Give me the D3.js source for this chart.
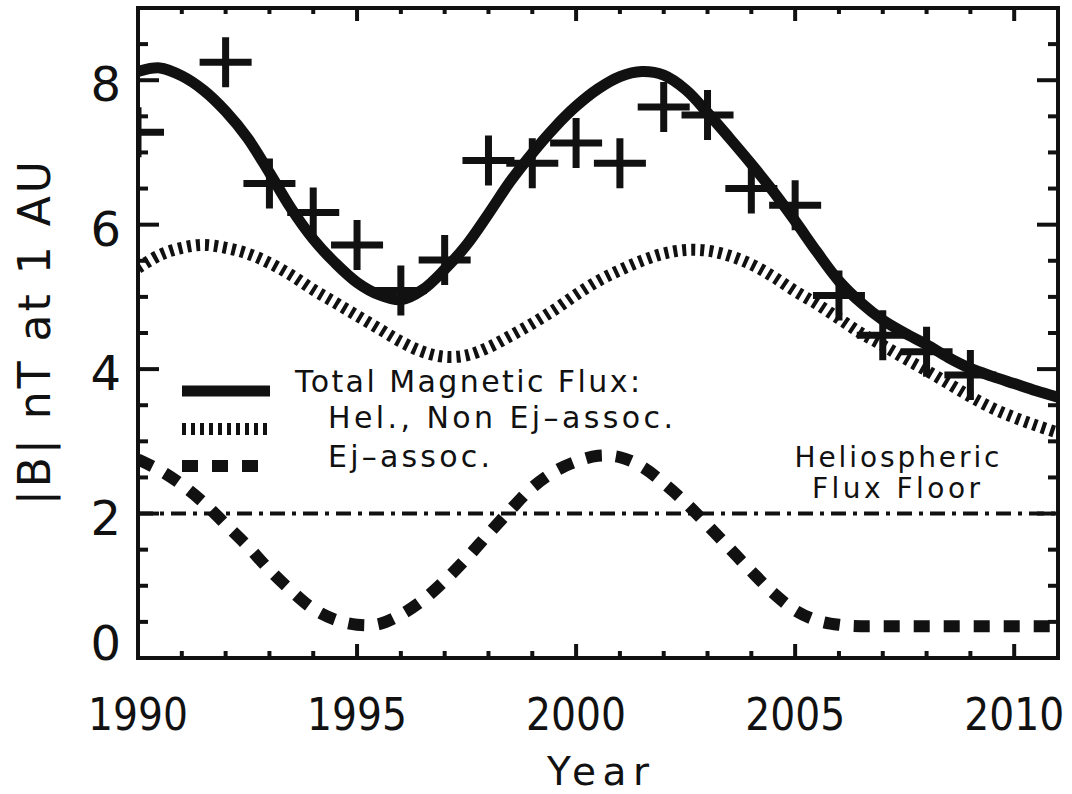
<!DOCTYPE html>
<html>
<head>
<meta charset="utf-8">
<script src="https://cdn.jsdelivr.net/npm/d3@7"></script>
<style>
  html, body { margin: 0; padding: 0; background: #fff; }
  svg { display: block; }
  text { font-family: "DejaVu Sans", sans-serif; fill: #111; }
</style>
</head>
<body>
<svg id="chart" width="1072" height="794"></svg>
<script>
// Model grid (years) and modelled field strengths
const modelYears = [1990, 1990.5, 1991, 1991.5, 1992, 1992.5, 1993, 1993.5, 1994, 1994.5,
  1995, 1995.5, 1996, 1996.5, 1997, 1997.5, 1998, 1998.5, 1999, 1999.5,
  2000, 2000.5, 2001, 2001.5, 2002, 2002.5, 2003, 2003.5, 2004, 2004.5,
  2005, 2005.5, 2006, 2006.5, 2007, 2007.5, 2008, 2008.5, 2009, 2009.5,
  2010, 2010.5, 2011];
const totalFlux = [8.12, 8.17, 8.06, 7.86, 7.57, 7.20, 6.72, 6.22, 5.80, 5.47,
  5.20, 5.03, 4.96, 5.10, 5.38, 5.72, 6.15, 6.60, 6.99, 7.34,
  7.64, 7.88, 8.05, 8.12, 8.07, 7.87, 7.55, 7.20, 6.84, 6.46,
  6.05, 5.62, 5.22, 4.92, 4.68, 4.50, 4.34, 4.16, 4.01, 3.90,
  3.80, 3.70, 3.61];
const helNonEjFlux = [5.40, 5.58, 5.68, 5.72, 5.68, 5.60, 5.47, 5.30, 5.10, 4.92,
  4.74, 4.56, 4.38, 4.24, 4.17, 4.19, 4.30, 4.46, 4.63, 4.82,
  5.03, 5.22, 5.37, 5.50, 5.60, 5.65, 5.64, 5.57, 5.45, 5.28,
  5.08, 4.90, 4.70, 4.50, 4.33, 4.15, 3.98, 3.80, 3.62, 3.46,
  3.33, 3.22, 3.12];
const ejFlux = [2.75, 2.60, 2.40, 2.15, 1.85, 1.55, 1.22, 0.93, 0.68, 0.53,
  0.46, 0.47, 0.60, 0.80, 1.07, 1.38, 1.72, 2.05, 2.36, 2.58,
  2.72, 2.80, 2.78, 2.65, 2.42, 2.15, 1.84, 1.52, 1.20, 0.90,
  0.66, 0.52, 0.46, 0.44, 0.44, 0.44, 0.44, 0.44, 0.44, 0.44,
  0.44, 0.44, 0.44];

// Yearly observed |B| at 1 AU
const obsYears = [1990, 1992, 1993, 1994, 1995, 1996, 1997, 1998, 1999, 2000,
  2001, 2002, 2003, 2004, 2005, 2006, 2007, 2008, 2009];
const obsB = [7.28, 8.25, 6.57, 6.17, 5.72, 5.09, 5.51, 6.89, 6.85, 7.13,
  6.85, 7.63, 7.52, 6.50, 6.27, 5.02, 4.47, 4.24, 3.92];

const floorLevel = 2;

// Axis ticks
const xMajorTicks = [1990, 1995, 2000, 2005, 2010];
const xMinorTicks = [1991, 1992, 1993, 1994, 1996, 1997, 1998, 1999, 2001, 2002,
  2003, 2004, 2006, 2007, 2008, 2009];
const yMajorTicks = [0, 2, 4, 6, 8];
const yMinorTicks = [0.5, 1, 1.5, 2.5, 3, 3.5, 4.5, 5, 5.5, 6.5, 7, 7.5, 8.5];

const legendLabels = ["Total Magnetic Flux:", "Hel., Non Ej\u2013assoc.", "Ej\u2013assoc."];
const floorLabel = ["Heliospheric", "Flux Floor"];

const INK = "#111";
const svg = d3.select("#chart");

const x = d3.scaleLinear().domain([1990, 2011]).range([138, 1058]);
const y = d3.scaleLinear().domain([0, 9]).range([658, 8]);
const [x0, x1] = x.range();
const [y0, y1] = y.range();

svg.append("defs").append("clipPath").attr("id", "plotClip")
  .append("rect").attr("x", x0).attr("y", y1).attr("width", x1 - x0).attr("height", y0 - y1);

const plot = svg.append("g").attr("clip-path", "url(#plotClip)");

const line = d3.line()
  .x((d, i) => x(modelYears[i]))
  .y(d => y(d))
  .curve(d3.curveCatmullRom.alpha(0.5));

// Heliospheric flux floor (dash-dot)
plot.append("line")
  .attr("x1", x0).attr("x2", x1)
  .attr("y1", y(floorLevel)).attr("y2", y(floorLevel))
  .attr("stroke", INK).attr("stroke-width", 4)
  .attr("stroke-dasharray", "15 7 4 7");

const styles = {
  total: { width: 11, dash: null },
  hel: { width: 12, dash: "4 5" },
  ej: { width: 12, dash: "16 14" }
};

function styleLine(sel, s) {
  sel.attr("fill", "none").attr("stroke", INK).attr("stroke-width", s.width)
    .attr("stroke-linecap", "butt").attr("stroke-linejoin", "round");
  if (s.dash) sel.attr("stroke-dasharray", s.dash);
  return sel;
}

styleLine(plot.append("path").attr("d", line(ejFlux)), styles.ej);
styleLine(plot.append("path").attr("d", line(helNonEjFlux)), styles.hel);
styleLine(plot.append("path").attr("d", line(totalFlux)), styles.total);

// Observations as plus signs
plot.selectAll("path.obs")
  .data(obsB)
  .join("path")
  .attr("class", "obs")
  .attr("transform", (d, i) => `translate(${x(obsYears[i])},${y(d)})`)
  .attr("d", "M-26,0H26M0,-25V25")
  .attr("stroke", INK).attr("stroke-width", 7).attr("fill", "none");

// Frame and inward ticks on all four sides
const axes = svg.append("g").attr("stroke", INK).attr("stroke-width", 4).attr("fill", "none");

function tickSet(values, scale, orient, len) {
  axes.selectAll(null).data(values).join("line")
    .attr("x1", d => orient === "left" ? x0 : orient === "right" ? x1 : scale(d))
    .attr("x2", d => orient === "left" ? x0 + len : orient === "right" ? x1 - len : scale(d))
    .attr("y1", d => orient === "bottom" ? y0 : orient === "top" ? y1 : scale(d))
    .attr("y2", d => orient === "bottom" ? y0 - len : orient === "top" ? y1 + len : scale(d));
}
tickSet(yMajorTicks, y, "left", 21);
tickSet(yMinorTicks, y, "left", 10);
tickSet(yMajorTicks, y, "right", 21);
tickSet(yMinorTicks, y, "right", 10);
tickSet(xMajorTicks, x, "bottom", 14);
tickSet(xMinorTicks, x, "bottom", 7);
tickSet(xMajorTicks, x, "top", 13);
tickSet(xMinorTicks, x, "top", 6);

axes.append("rect")
  .attr("x", x0).attr("y", y1).attr("width", x1 - x0).attr("height", y0 - y1)
  .attr("stroke-linejoin", "miter");

// Tick labels
svg.append("g").selectAll("text").data(yMajorTicks).join("text")
  .attr("x", 121)
  .attr("y", d => Math.min(y(d) + 4, y(0) - 15))
  .attr("dominant-baseline", "central")
  .attr("text-anchor", "end")
  .attr("font-size", 48)
  .text(d => d3.format("d")(d));

svg.append("g").selectAll("text").data(xMajorTicks).join("text")
  .attr("x", d => x(d))
  .attr("y", 730)
  .attr("text-anchor", "middle")
  .attr("font-size", 44)
  .attr("textLength", 100).attr("lengthAdjust", "spacingAndGlyphs")
  .text(d => d3.format("d")(d));

// Axis titles
svg.append("text")
  .attr("x", (x0 + x1) / 2).attr("y", 785)
  .attr("text-anchor", "middle").attr("font-size", 39)
  .attr("textLength", 102).attr("lengthAdjust", "spacing")
  .text("Year");

svg.append("text")
  .attr("transform", `translate(50,${(y0 + y1) / 2}) rotate(-90)`)
  .attr("text-anchor", "middle").attr("font-size", 44)
  .attr("textLength", 344).attr("lengthAdjust", "spacing")
  .text("|B| nT at 1 AU");

// Legend
const legend = svg.append("g");
const legendRows = [
  { s: styles.total, ly: 391, x2: 270, label: legendLabels[0], tx: 295, ty: 392, len: 345 },
  { s: styles.hel, ly: 429, x2: 270, label: legendLabels[1], tx: 328, ty: 428, len: 345 },
  { s: styles.ej, ly: 466, x2: 260, label: legendLabels[2], tx: 328, ty: 467, len: 162 }
];
legendRows.forEach(r => {
  styleLine(legend.append("line")
    .attr("x1", 182).attr("x2", r.x2).attr("y1", r.ly).attr("y2", r.ly), r.s);
  legend.append("text")
    .attr("x", r.tx).attr("y", r.ty)
    .attr("font-size", 30)
    .attr("textLength", r.len).attr("lengthAdjust", "spacing")
    .text(r.label);
});

// Flux floor annotation
svg.append("text").attr("x", 897).attr("y", 467)
  .attr("text-anchor", "middle").attr("font-size", 28)
  .attr("textLength", 205).attr("lengthAdjust", "spacing")
  .text(floorLabel[0]);
svg.append("text").attr("x", 896).attr("y", 498)
  .attr("text-anchor", "middle").attr("font-size", 28)
  .attr("textLength", 168).attr("lengthAdjust", "spacing")
  .text(floorLabel[1]);
</script>
</body>
</html>
